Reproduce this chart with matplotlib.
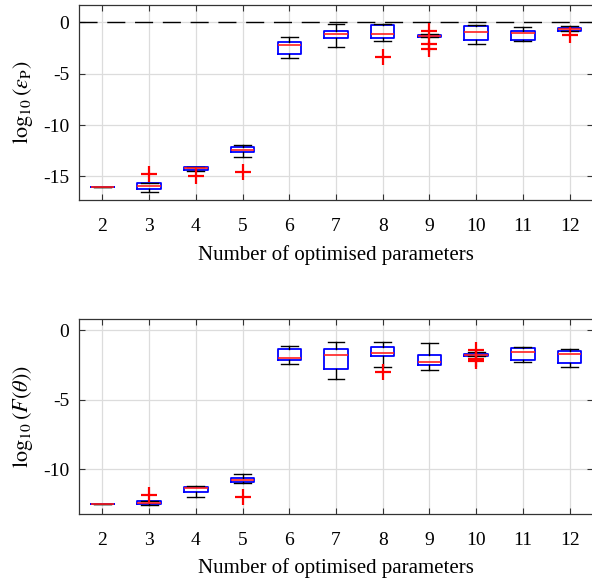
import matplotlib
matplotlib.use("Agg")
import matplotlib.pyplot as plt

plt.rcParams['font.family'] = ['Liberation Serif', 'DejaVu Serif']
plt.rcParams['mathtext.fontset'] = 'stix'

params = [2, 3, 4, 5, 6, 7, 8, 9, 10, 11, 12]

# Top panel: log10(eps_P)
top_q1 = [-16.07, -16.2, -14.37, -12.62, -3.05, -1.52, -1.52, -1.46, -1.71, -1.71, -0.81]
top_med = [-16.07, -15.97, -14.2, -12.43, -2.24, -1.17, -1.17, -1.35, -0.97, -1.07, -0.68]
top_q3 = [-16.07, -15.68, -14.08, -12.17, -1.88, -0.81, -0.29, -1.23, -0.35, -0.84, -0.55]
top_lo = [-16.07, -16.5, -14.47, -13.08, -3.44, -2.4, -1.85, -1.46, -2.1, -1.78, -0.81]
top_hi = [-16.07, -15.68, -14.08, -11.98, -1.46, -0.16, -0.16, -1.1, -0.29, -0.49, -0.32]
top_fliers = [[], [-14.76], [-14.95], [-14.57], [], [], [-3.34], [-0.81, -2.08, -2.6], [], [], [-1.2]]

# Bottom panel: log10(F(theta))
bot_q1 = [-12.51, -12.51, -11.65, -10.91, -2.12, -2.79, -1.89, -2.53, -1.88, -2.17, -2.36]
bot_med = [-12.51, -12.42, -11.34, -10.77, -1.98, -1.77, -1.62, -2.27, -1.8, -1.58, -1.74]
bot_q3 = [-12.51, -12.32, -11.27, -10.63, -1.34, -1.34, -1.19, -1.81, -1.74, -1.27, -1.53]
bot_lo = [-12.51, -12.6, -12.03, -10.96, -2.41, -3.51, -2.67, -2.87, -1.88, -2.31, -2.65]
bot_hi = [-12.51, -12.32, -11.2, -10.36, -1.17, -0.84, -0.84, -0.96, -1.6, -1.22, -1.36]
bot_fliers = [[], [-11.84], [], [-12.01], [], [], [-3.01], [], [-1.43, -2.08, -2.2], [], []]

xlabel = 'Number of optimised parameters'


def make_stats(q1, med, q3, lo, hi, fl):
    return [dict(q1=a, med=b, q3=c, whislo=d, whishi=e, fliers=f)
            for a, b, c, d, e, f in zip(q1, med, q3, lo, hi, fl)]


fig = plt.figure(figsize=(5.92, 5.82), dpi=100)
ax1 = fig.add_axes([79 / 592, 1 - 200 / 582, 514 / 592, 195 / 582])
ax2 = fig.add_axes([79 / 592, 1 - 513.7 / 582, 514 / 592, 194.7 / 582])

for ax, stats in [(ax1, make_stats(top_q1, top_med, top_q3, top_lo, top_hi, top_fliers)),
                  (ax2, make_stats(bot_q1, bot_med, bot_q3, bot_lo, bot_hi, bot_fliers))]:
    ax.bxp(stats, positions=params, widths=0.5, capwidths=0.36,
           boxprops=dict(color='#0000ff', linewidth=1.3),
           medianprops=dict(color='#ff2020', linewidth=1.2),
           whiskerprops=dict(color='black', linewidth=1.0),
           capprops=dict(color='black', linewidth=1.0),
           flierprops=dict(marker='+', markeredgecolor='red', markersize=11,
                           markeredgewidth=1.6, linestyle='none'),
           manage_ticks=False, zorder=3)
    ax.set_xlim(1.5, 12.5)
    ax.set_xticks(params)
    ax.set_xticklabels([str(p) for p in params])
    ax.grid(True, color='#dcdcdc', linewidth=0.9)
    ax.set_axisbelow(True)
    ax.tick_params(direction='in', top=True, right=True, length=4,
                   labelsize=14, color='#333333')
    ax.tick_params(axis='x', pad=13)
    ax.tick_params(axis='y', pad=7)
    for s in ax.spines.values():
        s.set_color('#333333')
        s.set_linewidth(0.9)
    ax.set_xlabel(xlabel, fontsize=15, labelpad=7)

ax1.axhline(0, color='black', linestyle=(0, (13, 7)), linewidth=1.0, zorder=2)
ax1.set_ylim(-17.3, 1.7)
ax1.set_yticks([0, -5, -10, -15])
ax1.set_yticklabels(['0', '-5', '-10', '-15'])
ax1.set_ylabel(r'$\log_{10}(\epsilon_{\mathrm{P}})$', fontsize=16, labelpad=6)

ax2.set_ylim(-13.2, 0.8)
ax2.set_yticks([0, -5, -10])
ax2.set_yticklabels(['0', '-5', '-10'])
ax2.set_ylabel(r'$\log_{10}(F(\theta))$', fontsize=16, labelpad=6)

fig.savefig('out.png', dpi=100)
